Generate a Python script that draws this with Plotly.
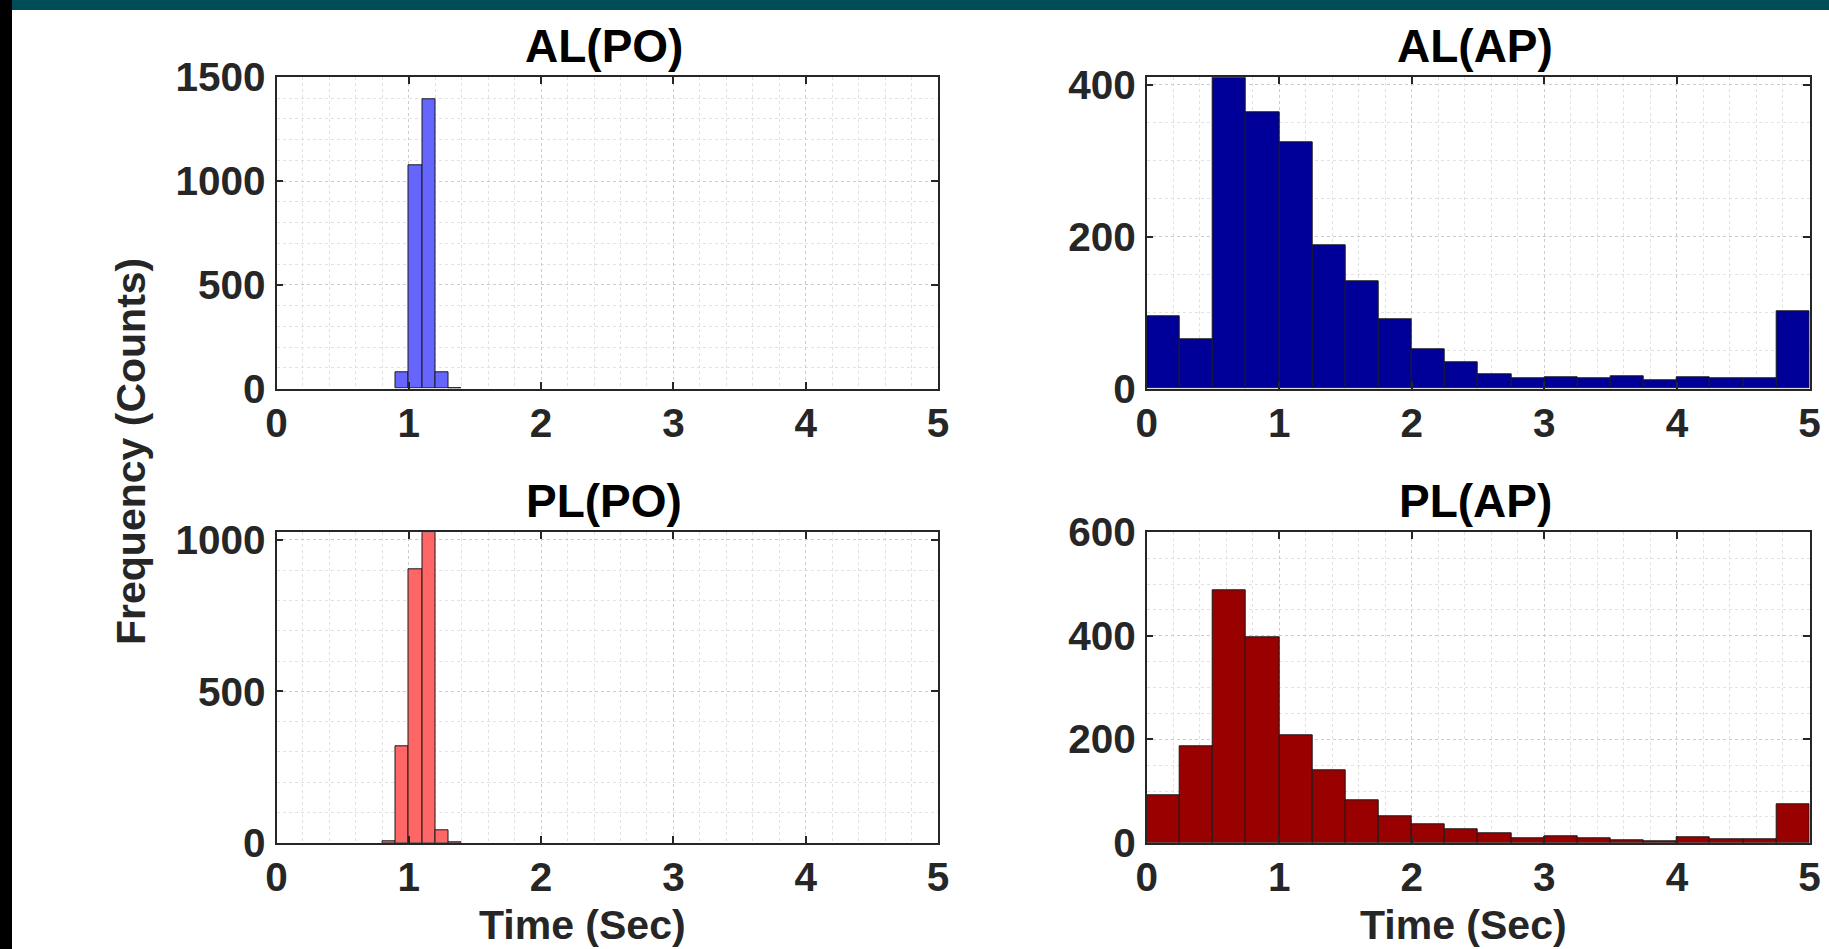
import plotly.graph_objects as go

# ---------------- data ----------------
# PO panels: bin width 0.1 s
al_po_edges = [0.9, 1.0, 1.1, 1.2, 1.3, 1.4]
al_po_counts = [80, 1074, 1394, 77, 3]

pl_po_edges = [0.8, 0.9, 1.0, 1.1, 1.2, 1.3, 1.4]
pl_po_counts = [4, 320, 903, 1025, 41, 3]

# AP panels: bin width 0.25 s, 0..5 s
ap_edges = [0.0, 0.25, 0.5, 0.75, 1.0, 1.25, 1.5, 1.75, 2.0, 2.25, 2.5,
            2.75, 3.0, 3.25, 3.5, 3.75, 4.0, 4.25, 4.5, 4.75, 5.0]
al_ap_counts = [95, 65, 410, 364, 324, 189, 141, 91, 51, 35, 19,
                14, 15, 13, 16, 11, 15, 14, 13, 102]
pl_ap_counts = [91, 186, 488, 398, 207, 141, 83, 51, 35, 27, 19,
                8, 13, 8, 4, 2, 10, 6, 6, 75]

titles = ["AL(PO)", "AL(AP)", "PL(PO)", "PL(AP)"]
x_ticks = [0, 1, 2, 3, 4, 5]
y_ticks = [[0, 500, 1000, 1500], [0, 200, 400], [0, 500, 1000], [0, 200, 400, 600]]
y_ranges = [[0, 1500], [0, 410], [0, 1025], [0, 600]]
y_minor = [100, 50, 100, 50]
x_label = "Time (Sec)"
y_label = "Frequency (Counts)"

# ---------------- layout geometry (pixels) ----------------
W, H = 1829, 949
cols = [(276.5, 938.0), (1146.7, 1809.5)]
rows = [(77.3, 388.5), (532.3, 842.8)]
colors = ["#6666FF", "#000099", "#FF6666", "#990000"]

def px_x(p):
    return p / W

def px_y(p):
    return 1 - p / H

series = [(al_po_edges, al_po_counts), (ap_edges, al_ap_counts),
          (pl_po_edges, pl_po_counts), (ap_edges, pl_ap_counts)]

fig = go.Figure()
TXT = "#262626"
FONT = "Arial, Liberation Sans, sans-serif"

for i, (edges, counts) in enumerate(series):
    centers = [(edges[k] + edges[k + 1]) / 2 for k in range(len(counts))]
    widths = [edges[k + 1] - edges[k] for k in range(len(counts))]
    n = i + 1
    xa = "x" if n == 1 else f"x{n}"
    ya = "y" if n == 1 else f"y{n}"
    fig.add_trace(go.Bar(x=centers, y=counts, width=widths,
                         marker=dict(color=colors[i], line=dict(color="#1a1a1a", width=1)),
                         xaxis=xa, yaxis=ya, showlegend=False, hoverinfo="x+y"))
    r, c = divmod(i, 2)
    x0, x1 = cols[c]
    y0, y1 = rows[r]
    axis_common = dict(showline=True, linecolor=TXT, linewidth=1.5, mirror="ticks",
                       ticks="inside", ticklen=7, tickwidth=1.5, tickcolor=TXT,
                       showgrid=True, gridcolor="#cccccc", griddash="dot", gridwidth=1,
                       zeroline=False, automargin=False,
                       tickfont=dict(family=FONT, size=40.5, color=TXT, weight="bold"))
    xkey = "xaxis" if n == 1 else f"xaxis{n}"
    ykey = "yaxis" if n == 1 else f"yaxis{n}"
    fig.layout[xkey] = dict(domain=[px_x(x0), px_x(x1)], range=[0, 5], anchor=ya,
                            tickvals=x_ticks, ticklabelstandoff=-2,
                            minor=dict(dtick=0.2, tick0=0, showgrid=True, gridcolor="#e2e2e2",
                                       griddash="dot", gridwidth=1, ticks=""),
                            **axis_common)
    fig.layout[ykey] = dict(domain=[px_y(y1), px_y(y0)], range=y_ranges[i], anchor=xa,
                            tickvals=y_ticks[i], ticklabelstandoff=1,
                            minor=dict(dtick=y_minor[i], tick0=0, showgrid=True, gridcolor="#e2e2e2",
                                       griddash="dot", gridwidth=1, ticks=""),
                            **axis_common)
    fig.add_annotation(text=titles[i], xref="paper", yref="paper",
                       x=px_x((x0 + x1) / 2 - 3), y=px_y(y0 - 31), xanchor="center", yanchor="middle",
                       showarrow=False, font=dict(family=FONT, size=46, color="#000000", weight="bold"))

# x labels (bottom row)
for cx in (582.0, 1463.0):
    fig.add_annotation(text=x_label, xref="paper", yref="paper", x=px_x(cx), y=px_y(925),
                       xanchor="center", yanchor="middle", showarrow=False,
                       font=dict(family=FONT, size=41, color=TXT, weight="bold"))
# y label
fig.add_annotation(text=y_label, xref="paper", yref="paper", x=px_x(131), y=px_y(452),
                   xanchor="center", yanchor="middle", textangle=-90, showarrow=False,
                   font=dict(family=FONT, size=41, color=TXT, weight="bold"))

# slide frame: teal top strip and black left strip
fig.add_shape(type="rect", xref="paper", yref="paper", x0=0, x1=1, y0=px_y(10), y1=1,
              fillcolor="#004C57", line=dict(width=0), layer="above")
fig.add_shape(type="rect", xref="paper", yref="paper", x0=0, x1=px_x(12), y0=0, y1=1,
              fillcolor="#000000", line=dict(width=0), layer="above")

fig.update_layout(width=W, height=H, margin=dict(l=0, r=0, t=0, b=0, autoexpand=False),
                  template="none", paper_bgcolor="white", plot_bgcolor="white", bargap=0)
fig.write_html("out.html")
